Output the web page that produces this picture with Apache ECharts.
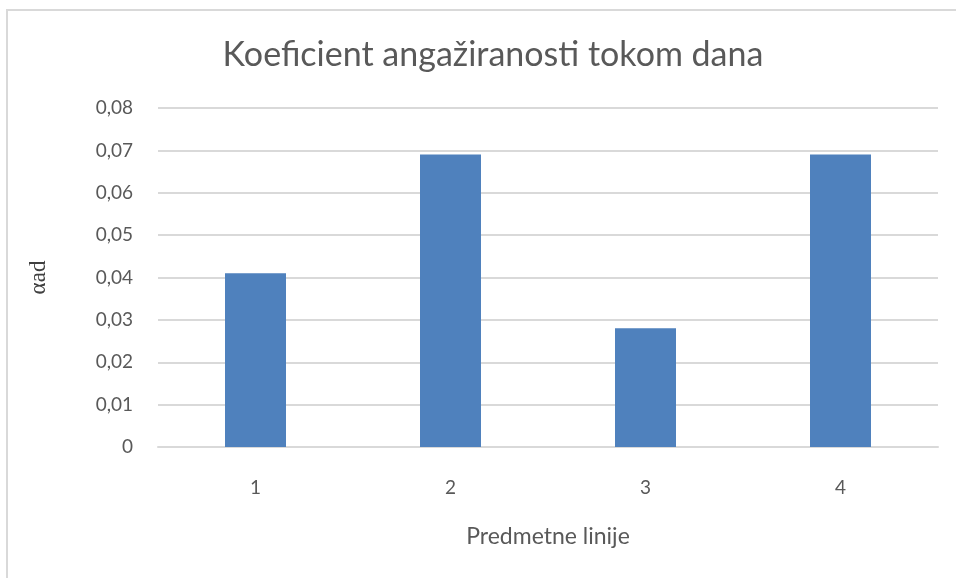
<!DOCTYPE html>
<html>
<head>
  <meta charset="UTF-8" />
  <title>Koeficient angažiranosti tokom dana</title>
  <script src="https://cdn.jsdelivr.net/npm/echarts@6/dist/echarts.min.js"></script>
  <style>
    html, body, #main { margin: 0; padding: 0; width: 956px; height: 578px; background: #fff; }
  </style>
</head>
<body>
  <div id="main"></div>
  <script>
    const categories = ['1', '2', '3', '4'];
    const values = [0.041, 0.069, 0.028, 0.069];

    const chart = echarts.init(document.getElementById('main'));
    const font = 'Lato, "Open Sans", sans-serif';

    chart.setOption({
      animation: false,
      title: {
        text: 'Koeficient angažiranosti tokom dana',
        left: 488,
        textAlign: 'center',
        top: 33,
        textStyle: { fontFamily: font, fontSize: 34, fontWeight: 'normal', color: '#595959' }
      },
      grid: { left: 158, right: 18, top: 108, bottom: 131 },
      xAxis: {
        type: 'category',
        data: categories,
        name: 'Predmetne linije',
        nameLocation: 'middle',
        nameGap: 78,
        nameTextStyle: { fontFamily: font, fontSize: 23, color: '#595959' },
        axisLine: { lineStyle: { color: '#d9d9d9', width: 2 } },
        axisTick: { show: false },
        axisLabel: { fontFamily: font, fontSize: 19, color: '#595959', margin: 31 }
      },
      yAxis: {
        type: 'value',
        min: 0,
        max: 0.08,
        interval: 0.01,
        name: 'αad',
        nameLocation: 'middle',
        nameGap: 108,
        nameTextStyle: { fontFamily: '"Liberation Serif", serif', fontSize: 23, color: '#404040' },
        axisLine: { show: false },
        axisTick: { show: false },
        splitLine: { lineStyle: { color: '#d9d9d9', width: 2 } },
        axisLabel: {
          fontFamily: font, fontSize: 19, color: '#595959', margin: 25,
          formatter: v => v === 0 ? '0' : v.toFixed(2).replace('.', ',')
        }
      },
      series: [{
        type: 'bar',
        data: values,
        barWidth: 61,
        itemStyle: { color: '#4f81bd' }
      }],
      graphic: [{
        type: 'rect',
        shape: { x: 7, y: 10, width: 1000, height: 700 },
        style: { fill: 'none', stroke: '#d9d9d9', lineWidth: 2 },
        silent: true
      }]
    });
  </script>
</body>
</html>
